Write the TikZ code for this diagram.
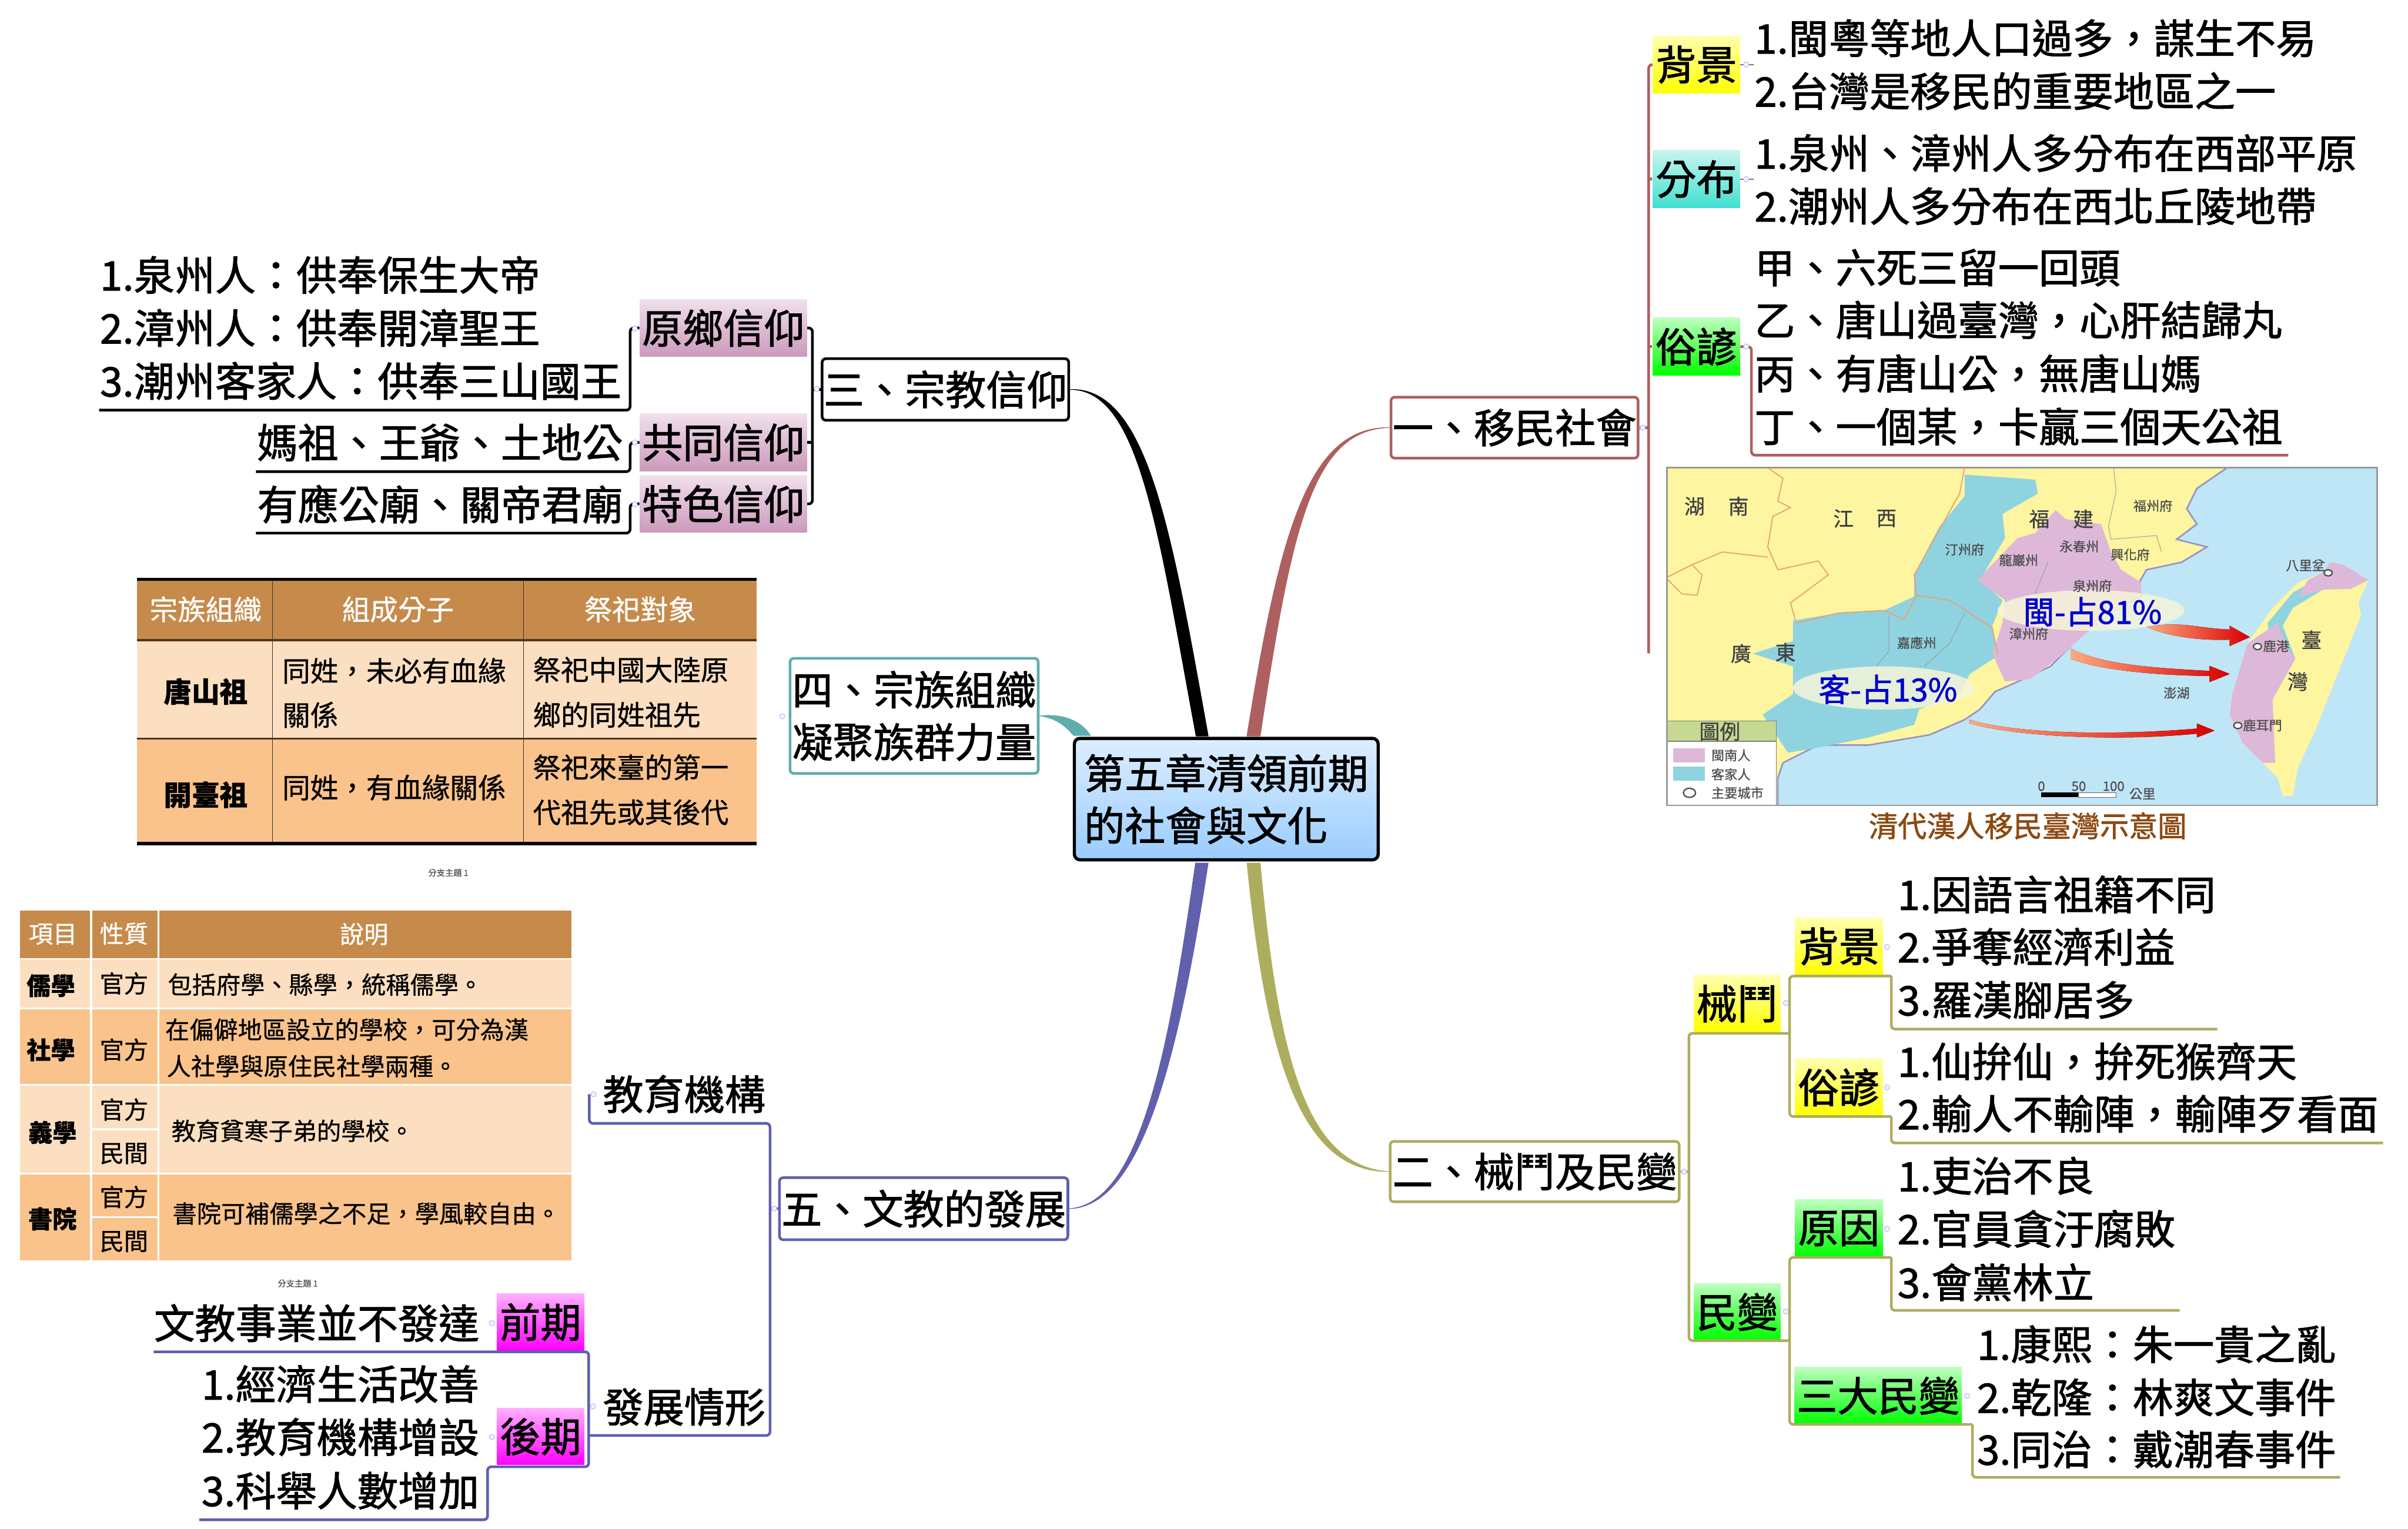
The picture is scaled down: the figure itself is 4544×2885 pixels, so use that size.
\documentclass[tikz,border=0pt]{standalone}
\usepackage{fontspec}
\setmainfont{Noto Sans CJK TC}[FakeBold=1.5]
\newfontfamily\tableFont{Noto Sans CJK TC}[FakeBold=0.7]
\usepackage{tikz}
\usetikzlibrary{positioning}
\usetikzlibrary{shapes}
\definecolor{moveRed}{HTML}{AE5F5F}
\definecolor{fightOlive}{HTML}{ADAD5F}
\definecolor{clanTeal}{HTML}{5FADAD}
\definecolor{schoolBlue}{HTML}{6060AD}
\definecolor{tableHead}{HTML}{C68A4B}
\definecolor{tableLight}{HTML}{FCDFC0}
\definecolor{tableDark}{HTML}{F9C38B}
\definecolor{seaBlue}{HTML}{BFE6F7}
\definecolor{landYellow}{HTML}{FDF5A0}
\definecolor{hakkaBlue}{HTML}{8FD3E0}
\definecolor{minPink}{HTML}{DDB8D8}
\definecolor{borderOrange}{HTML}{E8A070}
\definecolor{captionBrown}{HTML}{8B4A12}
\definecolor{legendGreen}{HTML}{C5D992}
\definecolor{hubTop}{HTML}{DDEEFF}
\definecolor{hubBottom}{HTML}{99CCFF}
\definecolor{yellowTop}{HTML}{FFFFB0}
\definecolor{aquaTop}{HTML}{C8F5EE}
\definecolor{aquaBottom}{HTML}{40E0D0}
\definecolor{greenTop}{HTML}{BFFFBF}
\definecolor{pinkTop}{HTML}{F0E0EC}
\definecolor{pinkBottom}{HTML}{CC99BB}
\definecolor{magentaTop}{HTML}{FFB0FF}
\definecolor{bubbleWhite}{HTML}{F5F5D8}
\newcommand{\bigFont}{\fontsize{21.8}{28}\selectfont}
\tikzset{
	listText/.style={inner sep=0pt, anchor=west, font=\bigFont, text height=19.2pt, text depth=2.6pt},
	listRight/.style={listText, anchor=east},
	topicBox/.style={rectangle, line width=0.05cm, rounded corners=2pt, inner sep=0pt, font=\bigFont, minimum width=#1},
	smallTag/.style={rectangle, inner sep=0pt, font=\bigFont, minimum height=1.08cm, minimum width=#1},
	yellowTag/.style={smallTag=#1, top color=yellowTop, bottom color=yellow},
	aquaTag/.style={smallTag=#1, top color=aquaTop, bottom color=aquaBottom},
	greenTag/.style={smallTag=#1, top color=greenTop, bottom color=green},
	pinkTag/.style={smallTag=#1, top color=pinkTop, bottom color=pinkBottom},
	magentaTag/.style={smallTag=#1, top color=magentaTop, bottom color=magenta},
	foldDot/.style={circle, draw=blue!30, fill=blue!5, line width=0.3pt, minimum size=0.1cm, inner sep=0pt},
	tableText/.style={inner sep=0pt, font=\tableFont\fontsize{15}{18}\selectfont},
	schoolText/.style={inner sep=0pt, font=\tableFont\fontsize{13}{16}\selectfont},
	tinyText/.style={inner sep=0pt, text=black!70, font=\tableFont\fontsize{4.5}{5}\selectfont},
	mapBig/.style={inner sep=0pt, text=black!75, font=\tableFont\fontsize{11}{12}\selectfont},
	mapSmall/.style={inner sep=0pt, text=black!70, font=\tableFont\fontsize{7}{8}\selectfont},
	mapPercent/.style={inner sep=0pt, text=blue!80!black, font=\fontsize{17}{18}\selectfont},
	moveLine/.style={draw=moveRed, line width=0.05cm, rounded corners=2pt},
	fightLine/.style={draw=fightOlive, line width=0.05cm, rounded corners=2pt},
	faithLine/.style={draw=black, line width=0.05cm, rounded corners=2pt},
	schoolLine/.style={draw=schoolBlue, line width=0.05cm, rounded corners=2pt},
	redArrow/.style={left color=red!35!orange!50!white, right color=red!85!black, draw=none},
}
\begin{document}
\begin{tikzpicture}[x=0.01cm, y=-0.01cm]
	\useasboundingbox (0,0) rectangle (4544,2885);

	\node[rectangle, draw=black, line width=0.06cm, rounded corners=3pt, top color=hubTop, bottom color=hubBottom, minimum width=5.73cm, minimum height=2.29cm, inner sep=0pt, align=left, font=\bigFont](hubBox) at (2314,1508){第五章清領前期\\的社會與文化};

	\node[topicBox=4.66cm, draw=moveRed, minimum height=1.15cm](moveBox) at (2858,807){一、移民社會};
	\node[yellowTag=1.65cm](moveBackTag) at (3201,122){背景};
	\node[aquaTag=1.65cm](moveSpreadTag) at (3201,338){分布};
	\node[greenTag=1.65cm](moveSayTag) at (3201,654){俗諺};
	\node[listText](moveBack1) at (3310,72){1.閩粵等地人口過多，謀生不易};
	\node[listText](moveBack2) at (3310,172){2.台灣是移民的重要地區之一};
	\node[listText](moveSpread1) at (3310,289){1.泉州、漳州人多分布在西部平原};
	\node[listText](moveSpread2) at (3310,389){2.潮州人多分布在西北丘陵地帶};
	\node[listText](moveSay1) at (3310,505){甲、六死三留一回頭};
	\node[listText](moveSay2) at (3310,604){乙、唐山過臺灣，心肝結歸丸};
	\node[listText](moveSay3) at (3310,705){丙、有唐山公，無唐山媽};
	\node[listText](moveSay4) at (3310,805){丁、一個某，卡贏三個天公祖};
	\coordinate(moveSpineTop) at (3111,122);
	\coordinate(moveSpineEnd) at (3111,1233);
	\coordinate(moveSayCorner) at (3305,654);
	\coordinate(moveSayEnd) at (4318,859);
	\draw[moveLine] (moveBackTag.west) -- (moveSpineTop) -- (moveSpineEnd);
	\draw[moveLine] (moveSpreadTag.west) -- (moveSpreadTag.west -| moveSpineTop);
	\draw[moveLine] (moveSayTag.west) -- (moveSayTag.west -| moveSpineTop);
	\draw[moveLine] (moveBox.east) -- (moveBox.east -| moveSpineTop);
	\draw[moveLine] (moveSayTag.east) -- (moveSayCorner) |- (moveSayEnd);
	\draw[moveRed, line width=0.02cm] (moveBackTag.east) -- ++(25,0);
	\draw[moveRed, line width=0.02cm] (moveSpreadTag.east) -- ++(25,0);

	\begin{scope}[shift={(3050,850)}, x=0.009528cm, y=-0.004785cm]
		\begin{scope}
			\clip (100,68) rectangle (1507,1397);
			\fill[seaBlue] (100,68) rectangle (1507,1397);
			\draw[landYellow!60!blue, line width=0.03cm, fill=landYellow] (100,68) -- (1210,68) -- (1150,150) -- (1130,230) -- (1150,290) -- (1110,350) -- (1170,380) -- (1120,440) -- (1050,470) -- (1030,540) -- (1040,570) -- (930,700) -- (900,770) -- (860,850) -- (790,915) -- (750,950) -- (720,1020) -- (690,1060) -- (620,1120) -- (500,1160) -- (400,1160) -- (330,1230) -- (320,1290) -- (320,1397) -- (100,1397) -- cycle;
			\fill[hakkaBlue] (690,95) -- (830,115) -- (835,170) -- (765,250) -- (770,345) -- (720,510) -- (765,590) -- (745,690) -- (755,810) -- (700,880) -- (680,960) -- (600,1020) -- (590,1080) -- (500,1130) -- (400,1170) -- (340,1190) -- (290,1040) -- (350,960) -- (350,850) -- (270,800) -- (350,750) -- (350,670) -- (440,640) -- (530,630) -- (590,575) -- (590,490) -- (640,300) -- (690,180) -- cycle;
			\fill[minPink] (870,235) -- (890,270) -- (960,290) -- (980,400) -- (1000,470) -- (1040,520) -- (1040,560) -- (930,720) -- (880,810) -- (820,900) -- (770,910) -- (745,800) -- (765,680) -- (770,590) -- (715,510) -- (795,345) -- (830,325) -- cycle;
			\fill[landYellow] (1415,440) -- (1440,450) -- (1490,510) -- (1470,600) -- (1475,650) -- (1445,800) -- (1405,1000) -- (1385,1100) -- (1350,1250) -- (1340,1360) -- (1320,1360) -- (1310,1290) -- (1280,1230) -- (1240,1150) -- (1215,1040) -- (1220,960) -- (1250,760) -- (1300,620) -- (1350,520) -- (1400,480) -- cycle;
			\fill[hakkaBlue] (1385,510) -- (1400,548) -- (1340,620) -- (1320,690) -- (1345,820) -- (1300,820) -- (1290,680) -- (1340,560) -- cycle;
			\fill[minPink] (1415,440) -- (1440,450) -- (1490,510) -- (1455,545) -- (1400,548) -- (1350,580) -- (1370,510) -- (1400,480) -- cycle;
			\fill[minPink] (1310,680) -- (1330,780) -- (1345,820) -- (1300,980) -- (1305,1230) -- (1280,1230) -- (1240,1150) -- (1215,1040) -- (1220,960) -- (1250,760) -- cycle;
			\draw[borderOrange, line width=0.02cm] (300,68) -- (330,110) -- (320,200) -- (345,225) -- (310,260) -- (300,380) -- (320,470) -- (400,435) -- (420,490) -- (345,600) -- (355,670);
			\draw[borderOrange, line width=0.02cm] (100,500) -- (150,450) -- (210,400) -- (300,420);
			\draw[borderOrange, line width=0.02cm] (150,450) -- (170,490) -- (160,570) -- (130,565) -- (100,505);
			\draw[borderOrange, line width=0.02cm] (690,68) -- (680,170) -- (590,490) -- (595,570) -- (570,665) -- (530,630) -- (440,640) -- (355,680);
			\draw[borderOrange, line width=0.02cm] (595,570) -- (660,590) -- (700,640) -- (745,700) -- (755,800);
			\draw[black!40, line width=0.01cm] (540,650) -- (540,790) -- (515,850);
			\draw[black!40, line width=0.01cm] (690,640) -- (660,760) -- (610,850);
			\draw[black!40, line width=0.01cm] (985,68) -- (990,160) -- (975,300) -- (980,350) -- (1070,335) -- (1080,400);
			\draw[black!40, line width=0.01cm] (855,440) -- (830,560) -- (860,590);
			\fill[bubbleWhite, opacity=0.85] (940,630) ellipse (185 and 80);
			\fill[bubbleWhite, opacity=0.85] (530,935) ellipse (180 and 85);
			\fill[redArrow] (1050,695) .. controls (1120,670) and (1150,700) .. (1215,705) -- (1215,690) -- (1255,735) -- (1215,770) -- (1215,745) .. controls (1150,750) and (1090,730) .. cycle;
			\fill[redArrow] (900,780) .. controls (960,840) and (1050,855) .. (1175,868) -- (1175,848) -- (1215,880) -- (1175,912) -- (1175,888) .. controls (1050,885) and (950,860) .. (900,820) -- cycle;
			\fill[redArrow] (700,1060) .. controls (800,1120) and (1000,1120) .. (1150,1095) -- (1150,1075) -- (1185,1103) -- (1150,1130) -- (1150,1115) .. controls (1000,1145) and (800,1130) .. (700,1075) -- cycle;
			\fill[white] (100,1145) rectangle (317,1397);
			\fill[legendGreen] (100,1065) rectangle (317,1145);
			\draw[black!50, line width=0.02cm] (100,1065) -- (317,1065) -- (317,1397) (100,1145) -- (317,1145);
			\fill[minPink] (112,1173) rectangle (175,1228);
			\fill[hakkaBlue] (112,1245) rectangle (175,1300);
			\draw[black!70, line width=0.025cm, fill=white] (145,1348) ellipse (12 and 18);
			\fill[black] (842,1347) rectangle (916,1365);
			\draw[black!60, fill=white, line width=0.01cm] (916,1347) rectangle (990,1365);
			\draw[black!70, line width=0.025cm, fill=white] (1410,482) ellipse (8 and 12);
			\draw[black!70, line width=0.025cm, fill=white] (1270,772) ellipse (8 and 12);
			\draw[black!70, line width=0.025cm, fill=white] (1231,1083) ellipse (8 and 12);
		\end{scope}
		\draw[black!40, line width=0.03cm] (100,68) rectangle (1507,1397);
		\node[mapPercent](minLabel) at (943,635){閩-占81\%};
		\node[mapPercent](hakkaLabel) at (538,940){客-占13\%};
		\node[mapBig](hunanLabel1) at (155,220){湖};
		\node[mapBig](hunanLabel2) at (242,220){南};
		\node[mapBig](jiangxiLabel1) at (450,268){江};
		\node[mapBig](jiangxiLabel2) at (535,268){西};
		\node[mapBig](fujianLabel1) at (838,270){福};
		\node[mapBig](fujianLabel2) at (925,270){建};
		\node[mapBig](guangdongLabel1) at (247,800){廣};
		\node[mapBig](guangdongLabel2) at (335,795){東};
		\node[mapBig](taiwanLabel1) at (1377,745){臺};
		\node[mapBig](taiwanLabel2) at (1350,910){灣};
		\node[mapSmall](fuzhouLabel) at (1063,218){福州府};
		\node[mapSmall](tingzhouLabel) at (690,390){汀州府};
		\node[mapSmall](longyanLabel) at (797,432){龍巖州};
		\node[mapSmall](yongchunLabel) at (917,378){永春州};
		\node[mapSmall](xinghuaLabel) at (1018,410){興化府};
		\node[mapSmall](quanzhouLabel) at (943,533){泉州府};
		\node[mapSmall](zhangzhouLabel) at (817,722){漳州府};
		\node[mapSmall](jiayingLabel) at (595,757){嘉應州};
		\node[mapSmall](baliLabel) at (1365,453){八里坌};
		\node[mapSmall](lugangLabel) at (1307,770){鹿港};
		\node[mapSmall](luermenLabel) at (1280,1082){鹿耳門};
		\node[mapSmall](penghuLabel) at (1110,955){澎湖};
		\node[mapBig](legendHead) at (205,1106){圖例};
		\node[mapSmall](legendMin) at (227,1200){閩南人};
		\node[mapSmall](legendHakka) at (227,1275){客家人};
		\node[mapSmall](legendCity) at (240,1348){主要城市};
		\node[mapSmall](scale0) at (842,1322){0};
		\node[mapSmall](scale50) at (916,1322){50};
		\node[mapSmall](scale100) at (985,1322){100};
		\node[mapSmall](scaleUnit) at (1042,1352){公里};
		\node[inner sep=0pt, text=captionBrown, font=\fontsize{15.5}{18}\selectfont](mapCaption) at (815,1478){清代漢人移民臺灣示意圖};
	\end{scope}

	\node[topicBox=5.45cm, draw=fightOlive, minimum height=1.14cm](fightBox) at (2896,2211){二、械鬥及民變};
	\node[yellowTag=1.64cm](fightFeudTag) at (3278,1894){械鬥};
	\node[greenTag=1.64cm](fightRevoltTag) at (3278,2476){民變};
	\node[yellowTag=1.65cm](feudBackTag) at (3470,1786){背景};
	\node[yellowTag=1.65cm](feudSayTag) at (3470,2052){俗諺};
	\node[greenTag=1.65cm](revoltCauseTag) at (3470,2318){原因};
	\node[greenTag=3.15cm](revoltThreeTag) at (3544,2634){三大民變};
	\node[listText](feudBack1) at (3580,1688){1.因語言祖籍不同};
	\node[listText](feudBack2) at (3580,1787){2.爭奪經濟利益};
	\node[listText](feudBack3) at (3580,1887){3.羅漢腳居多};
	\node[listText](feudSay1) at (3580,2003){1.仙拚仙，拚死猴齊天};
	\node[listText](feudSay2) at (3580,2102){2.輸人不輸陣，輸陣歹看面};
	\node[listText](revoltCause1) at (3580,2219){1.吏治不良};
	\node[listText](revoltCause2) at (3580,2319){2.官員貪汙腐敗};
	\node[listText](revoltCause3) at (3580,2420){3.會黨林立};
	\node[listText](revoltThree1) at (3730,2537){1.康熙：朱一貴之亂};
	\node[listText](revoltThree2) at (3730,2637){2.乾隆：林爽文事件};
	\node[listText](revoltThree3) at (3730,2735){3.同治：戴潮春事件};
	\coordinate(fightSpineTop) at (3187,1950);
	\coordinate(fightSpineEnd) at (3187,2530);
	\coordinate(feudTopLeft) at (3377,1950);
	\coordinate(feudBranchTop) at (3377,1842);
	\coordinate(feudBranchEnd) at (3377,2107);
	\coordinate(feudElbowTop) at (3569,1842);
	\coordinate(feudElbowEnd) at (3569,2107);
	\coordinate(feudBackEnd) at (4184,1942);
	\coordinate(feudSayEnd) at (4497,2157);
	\coordinate(revoltBottomLeft) at (3377,2530);
	\coordinate(revoltBranchTop) at (3377,2373);
	\coordinate(revoltBranchEnd) at (3377,2688);
	\coordinate(revoltElbowTop) at (3569,2373);
	\coordinate(revoltElbowEnd) at (3722,2688);
	\coordinate(revoltCauseEnd) at (4113,2473);
	\coordinate(revoltThreeEnd) at (4416,2788);
	\draw[fightLine] (fightBox.east) -- (fightBox.east -| fightSpineTop);
	\draw[fightLine] (feudTopLeft) -- (fightSpineTop) -- (fightSpineEnd) -- (revoltBottomLeft);
	\draw[fightLine] (feudElbowTop) -- (feudBranchTop) -- (feudBranchEnd) -- (feudElbowEnd);
	\draw[fightLine] (feudElbowTop) |- (feudBackEnd);
	\draw[fightLine] (feudElbowEnd) |- (feudSayEnd);
	\draw[fightLine] (revoltElbowTop) -- (revoltBranchTop) -- (revoltBranchEnd) -- (revoltElbowEnd);
	\draw[fightLine] (revoltElbowTop) |- (revoltCauseEnd);
	\draw[fightLine] (revoltElbowEnd) |- (revoltThreeEnd);

	\node[topicBox=4.65cm, draw=black, minimum height=1.16cm](faithBox) at (1784,735){三、宗教信仰};
	\node[pinkTag=3.15cm](faithHomeTag) at (1365,619){原鄉信仰};
	\node[pinkTag=3.15cm](faithSharedTag) at (1365,835){共同信仰};
	\node[pinkTag=3.15cm](faithLocalTag) at (1365,951){特色信仰};
	\node[listText](faithHome1) at (188,519){1.泉州人：供奉保生大帝};
	\node[listText](faithHome2) at (188,619){2.漳州人：供奉開漳聖王};
	\node[listText](faithHome3) at (188,719){3.潮州客家人：供奉三山國王};
	\node[listRight](faithShared) at (1176,835){媽祖、王爺、土地公};
	\node[listRight](faithLocal) at (1176,952){有應公廟、關帝君廟};
	\coordinate(faithSpineTop) at (1533,619);
	\coordinate(faithSpineEnd) at (1533,951);
	\coordinate(faithHomeElbow) at (1189,619);
	\coordinate(faithHomeEnd) at (187,774);
	\coordinate(faithSharedElbow) at (1189,835);
	\coordinate(faithSharedEnd) at (483,890);
	\coordinate(faithLocalElbow) at (1189,951);
	\coordinate(faithLocalEnd) at (483,1006);
	\draw[faithLine] (faithHomeTag.east) -- (faithSpineTop) -- (faithSpineEnd) -- (faithLocalTag.east);
	\draw[faithLine] (faithSharedTag.east) -- (faithSharedTag.east -| faithSpineTop);
	\draw[faithLine] (faithBox.west) -- (faithBox.west -| faithSpineTop);
	\draw[faithLine] (faithHomeTag.west) -- (faithHomeElbow) |- (faithHomeEnd);
	\draw[faithLine] (faithSharedTag.west) -- (faithSharedElbow) |- (faithSharedEnd);
	\draw[faithLine] (faithLocalTag.west) -- (faithLocalElbow) |- (faithLocalEnd);

	\fill[tableHead] (259,1091) rectangle (1428,1208);
	\fill[tableLight] (259,1208) rectangle (1428,1394);
	\fill[tableDark] (259,1394) rectangle (1428,1594);
	\draw[black!80, line width=0.015cm] (514,1091) -- (514,1594) (988,1091) -- (988,1594);
	\draw[black, line width=0.06cm] (259,1093) -- (1428,1093) (259,1592) -- (1428,1592);
	\draw[black!60!tableHead, line width=0.04cm] (259,1208) -- (1428,1208) (259,1394) -- (1428,1394);
	\node[tableText, text=white](clanHead1) at (388,1150){宗族組織};
	\node[tableText, text=white](clanHead2) at (751,1150){組成分子};
	\node[tableText, text=white](clanHead3) at (1208,1150){祭祀對象};
	\node[tableText](clanRow1) at (388,1305){\textbf{唐山祖}};
	\node[tableText](clanRow2) at (388,1500){\textbf{開臺祖}};
	\node[tableText, anchor=west](clanMember1a) at (532,1266){同姓，未必有血緣};
	\node[tableText, anchor=west](clanMember1b) at (532,1349){關係};
	\node[tableText, anchor=west](clanMember2) at (532,1486){同姓，有血緣關係};
	\node[tableText, anchor=west](clanWorship1a) at (1005,1264){祭祀中國大陸原};
	\node[tableText, anchor=west](clanWorship1b) at (1005,1349){鄉的同姓祖先};
	\node[tableText, anchor=west](clanWorship2a) at (1005,1448){祭祀來臺的第一};
	\node[tableText, anchor=west](clanWorship2b) at (1005,1533){代祖先或其後代};
	\node[tinyText](clanNote) at (846,1647){分支主題 1};

	\node[rectangle, draw=clanTeal, line width=0.05cm, rounded corners=2pt, minimum width=4.68cm, minimum height=2.17cm, inner sep=0pt, align=left, font=\bigFont](clanBox) at (1725,1351){四、宗族組織\\凝聚族群力量};
	\node[foldDot](clanFold) at (1476,1352){};
	\coordinate(clanCurveEnd) at (2058,1388);
	\coordinate(clanCurveFoot) at (2026,1388);
	\draw[clanTeal, fill=clanTeal, line width=0.01cm] (clanBox.east) .. controls (2005,1346) and (2040,1360) .. (clanCurveEnd) -- (clanCurveFoot) .. controls (2010,1370) and (1995,1356) .. (clanBox.east);

	\fill[tableHead] (38,1718) rectangle (170,1808);
	\fill[tableHead] (174,1718) rectangle (297,1808);
	\fill[tableHead] (301,1718) rectangle (1078,1808);
	\fill[tableLight] (38,1811) rectangle (170,1902);
	\fill[tableLight] (174,1811) rectangle (297,1902);
	\fill[tableLight] (301,1811) rectangle (1078,1902);
	\fill[tableDark] (38,1905) rectangle (170,2046);
	\fill[tableDark] (174,1905) rectangle (297,2046);
	\fill[tableDark] (301,1905) rectangle (1078,2046);
	\fill[tableLight] (38,2049) rectangle (170,2213);
	\fill[tableLight] (174,2049) rectangle (297,2129);
	\fill[tableLight] (174,2133) rectangle (297,2213);
	\fill[tableLight] (301,2049) rectangle (1078,2213);
	\fill[tableDark] (38,2216) rectangle (170,2378);
	\fill[tableDark] (174,2216) rectangle (297,2295);
	\fill[tableDark] (174,2299) rectangle (297,2378);
	\fill[tableDark] (301,2216) rectangle (1078,2378);
	\node[schoolText, text=white](schoolHead1) at (100,1763){項目};
	\node[schoolText, text=white](schoolHead2) at (234,1762){性質};
	\node[schoolText, text=white](schoolHead3) at (687,1763){說明};
	\node[schoolText](schoolRu) at (96,1860){\textbf{儒學}};
	\node[schoolText](schoolRuKind) at (234,1856){官方};
	\node[schoolText, anchor=west](schoolRuNote) at (316,1858){包括府學、縣學，統稱儒學。};
	\node[schoolText](schoolShe) at (96,1981){\textbf{社學}};
	\node[schoolText](schoolSheKind) at (234,1981){官方};
	\node[schoolText, anchor=west](schoolSheNote1) at (311,1943){在偏僻地區設立的學校，可分為漢};
	\node[schoolText, anchor=west](schoolSheNote2) at (314,2012){人社學與原住民社學兩種。};
	\node[schoolText](schoolYi) at (99,2137){\textbf{義學}};
	\node[schoolText](schoolYiKind1) at (234,2094){官方};
	\node[schoolText](schoolYiKind2) at (234,2177){民間};
	\node[schoolText, anchor=west](schoolYiNote) at (323,2134){教育貧寒子弟的學校。};
	\node[schoolText](schoolShu) at (99,2300){\textbf{書院}};
	\node[schoolText](schoolShuKind1) at (234,2259){官方};
	\node[schoolText](schoolShuKind2) at (234,2343){民間};
	\node[schoolText, anchor=west](schoolShuNote) at (325,2290){書院可補儒學之不足，學風較自由。};
	\node[tinyText](schoolNote) at (562,2422){分支主題 1};

	\node[topicBox=5.44cm, draw=schoolBlue, minimum height=1.17cm](schoolBox) at (1743,2281){五、文教的發展};
	\node[listText](schoolOrg) at (1137,2065){教育機構};
	\node[listText](schoolGrow) at (1137,2655){發展情形};
	\node[magentaTag=1.64cm, minimum height=1.07cm](earlyTag) at (1020,2495){前期};
	\node[magentaTag=1.64cm, minimum height=1.07cm](lateTag) at (1020,2711){後期};
	\node[listRight](earlyText) at (905,2497){文教事業並不發達};
	\node[listRight](late1) at (905,2612){1.經濟生活改善};
	\node[listRight](late2) at (905,2712){2.教育機構增設};
	\node[listRight](late3) at (905,2813){3.科舉人數增加};
	\coordinate(schoolSpineTop) at (1453,2120);
	\coordinate(schoolSpineEnd) at (1453,2709);
	\coordinate(schoolOrgTick) at (1112,2065);
	\coordinate(schoolOrgCorner) at (1112,2120);
	\coordinate(schoolGrowTop) at (1111,2551);
	\coordinate(schoolGrowEnd) at (1111,2768);
	\coordinate(schoolGrowFoot) at (1111,2709);
	\coordinate(earlyEnd) at (290,2551);
	\coordinate(lateCorner) at (920,2768);
	\coordinate(lateEnd) at (376,2868);
	\draw[schoolLine] (schoolOrgTick) -- (schoolOrgCorner) -- (schoolSpineTop) -- (schoolSpineEnd) -- (schoolGrowFoot);
	\draw[schoolLine] (schoolBox.west) -- (schoolBox.west -| schoolSpineTop);
	\draw[schoolLine] (earlyEnd) -- (schoolGrowTop) -- (schoolGrowEnd) -- (lateCorner) |- (lateEnd);

	\coordinate(faithCurveA) at (2257,1389);
	\coordinate(faithCurveB) at (2280,1389);
	\draw[black, fill=black, line width=0.01cm] (faithBox.east) .. controls (2150,735) and (2185,1000) .. (faithCurveA) -- (faithCurveB) .. controls (2210,1000) and (2165,730) .. (faithBox.east);
	\coordinate(moveCurveA) at (2353,1389);
	\coordinate(moveCurveB) at (2378,1389);
	\draw[moveRed, fill=moveRed, line width=0.01cm] (moveBox.west) .. controls (2470,804) and (2415,1000) .. (moveCurveA) -- (moveCurveB) .. controls (2437,1000) and (2475,810) .. (moveBox.west);
	\coordinate(schoolCurveA) at (2256,1628);
	\coordinate(schoolCurveB) at (2280,1628);
	\draw[schoolBlue, fill=schoolBlue, line width=0.01cm] (schoolCurveA) .. controls (2205,1990) and (2150,2272) .. (schoolBox.east) .. controls (2155,2278) and (2225,1990) .. (schoolCurveB);
	\coordinate(fightCurveA) at (2353,1628);
	\coordinate(fightCurveB) at (2378,1628);
	\draw[fightOlive, fill=fightOlive, line width=0.01cm] (fightCurveA) .. controls (2390,2000) and (2455,2212) .. (fightBox.west) .. controls (2465,2200) and (2412,2000) .. (fightCurveB);

	\node[foldDot](moveFold1) at (3295,122){};
	\node[foldDot](moveFold2) at (3295,338){};
	\node[foldDot](moveFold3) at (3295,654){};
	\node[foldDot](moveFold4) at (3100,807){};
	\node[foldDot](fightFold1) at (3178,2211){};
	\node[foldDot](fightFold2) at (3370,1893){};
	\node[foldDot](fightFold3) at (3561,1787){};
	\node[foldDot](fightFold4) at (3561,2052){};
	\node[foldDot](fightFold5) at (3561,2319){};
	\node[foldDot](fightFold6) at (3370,2475){};
	\node[foldDot](fightFold7) at (3712,2634){};
	\node[foldDot](faithFold1) at (1198,620){};
	\node[foldDot](faithFold2) at (1198,835){};
	\node[foldDot](faithFold3) at (1198,952){};
	\node[foldDot](faithFold4) at (1541,734){};
	\node[foldDot](schoolFold1) at (1120,2065){};
	\node[foldDot](schoolFold2) at (1461,2281){};
	\node[foldDot](schoolFold3) at (928,2497){};
	\node[foldDot](schoolFold4) at (928,2712){};
	\node[foldDot](schoolFold5) at (1119,2654){};
\end{tikzpicture}
\end{document}
